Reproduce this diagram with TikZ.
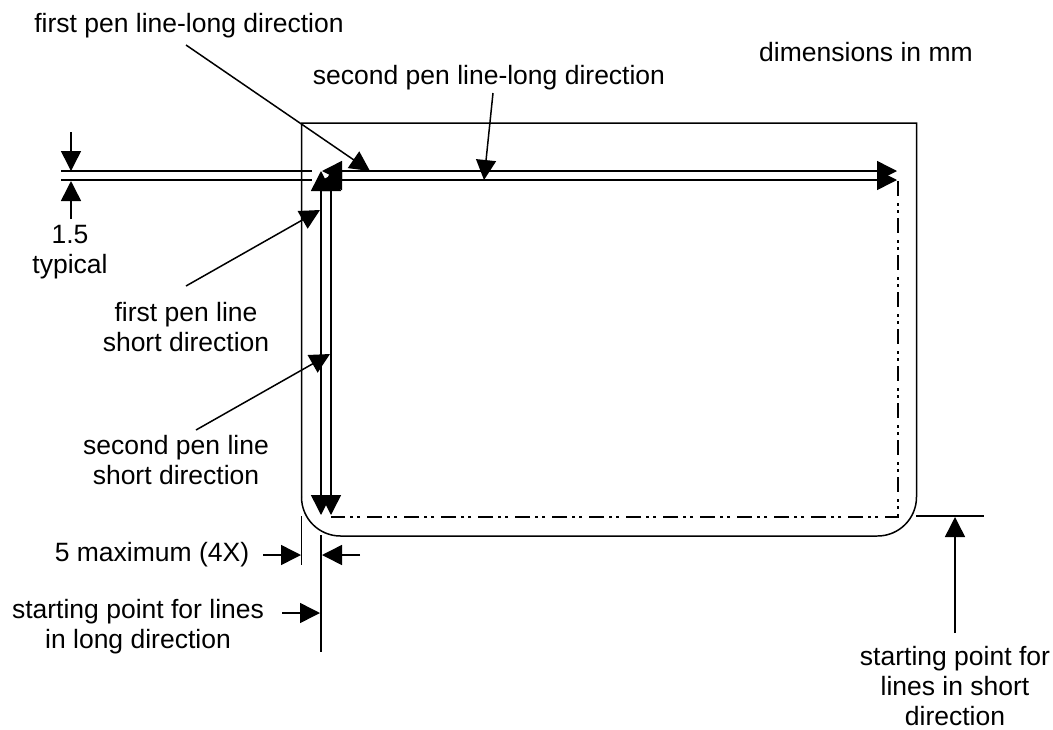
\documentclass[tikz,border=0pt]{standalone}
\usepackage{fontspec}
\setmainfont{Liberation Sans}
\usetikzlibrary{arrows.meta}
\tikzset{
  x=1pt,y=-1pt,
  ln/.style={line width=1.5pt,black},
  hd/.style={ln,{Triangle[length=20pt,width=20pt]}-{Triangle[length=20pt,width=20pt]}},
  tp/.style={ln,-{Triangle[length=20pt,width=20pt]}},
  pen/.style={line width=2pt,black,dash pattern=on 15pt off 7pt on 3pt off 4pt on 3pt off 5pt},
  lbl/.style={font=\fontsize{26.5}{30}\selectfont,align=center,inner sep=0pt,text=black,anchor=base},
}
\begin{document}
\begin{tikzpicture}
\useasboundingbox (0,0) rectangle (1053,729);
% outline
\coordinate (tl) at (301.5,123);
\coordinate (tr) at (916.5,123);
\coordinate (lb) at (301.5,497);
\coordinate (bl) at (340.5,536);
\coordinate (br) at (877.5,536);
\coordinate (rb) at (916.5,497);
\draw[ln] (lb) -- (tl) -- (tr) -- (rb) arc[start angle=0,end angle=90,radius=39pt,y radius=-39pt];
\draw[ln] (br) -- (bl) arc[start angle=90,end angle=180,radius=39pt,y radius=-39pt];
% pen lines
\coordinate (h1a) at (322,171); \coordinate (h1b) at (897,171);
\coordinate (h2a) at (322,180); \coordinate (h2b) at (897,180);
\coordinate (v1a) at (321,171); \coordinate (v1b) at (321,515);
\coordinate (v2a) at (331,171); \coordinate (v2b) at (331,515);
\draw[hd] (h1a) -- (h1b);
\draw[hd] (h2a) -- (h2b);
\draw[hd] (v1a) -- (v1b);
\draw[hd] (v2a) -- (v2b);
% dash-dot-dot
\coordinate (c1) at (897.5,181); \coordinate (c2) at (897.5,516.5); \coordinate (c3) at (331,516.5);
\draw[pen] (c1) -- (c2) -- (c3);
% extension lines
\coordinate (e1a) at (61,171); \coordinate (e1b) at (312,171);
\coordinate (e2a) at (61,180); \coordinate (e2b) at (312,180);
\draw[ln] (e1a) -- (e1b);
\draw[ln] (e2a) -- (e2b);
\coordinate (e3a) at (301.5,516); \coordinate (e3b) at (301.5,565);
\draw[ln] (e3a) -- (e3b);
\coordinate (e4a) at (321,535); \coordinate (e4b) at (321,652);
\draw[ln] (e4a) -- (e4b);
\coordinate (e5a) at (916,516); \coordinate (e5b) at (984,516);
\draw[ln] (e5a) -- (e5b);
% labels
\node[lbl] (t1) at (189,32) {first pen line-long direction};
\node[lbl] (t2) at (489,84) {second pen line-long direction};
\node[lbl] (t3) at (866,61) {dimensions in mm};
\node[lbl] (t4) at (70,273) {1.5\\typical};
\node[lbl] (t5) at (186,351) {first pen line\\short direction};
\node[lbl] (t6) at (176,484) {second pen line\\short direction};
\node[lbl] (t7) at (152,561) {5 maximum (4X)};
\node[lbl] (t8) at (138,648) {starting point for lines\\in long direction};
\node[lbl] (t9) at (955,725) {starting point for\\lines in short\\direction};
% leaders
\coordinate (a1s) at (186,45); \coordinate (a1t) at (370,171);
\draw[tp] (a1s) -- (a1t);
\coordinate (a2s) at (493,93); \coordinate (a2t) at (484,180);
\draw[tp] (a2s) -- (a2t);
\coordinate (a3s) at (186,286); \coordinate (a3t) at (320,210);
\draw[tp] (a3s) -- (a3t);
\coordinate (a4s) at (196,430); \coordinate (a4t) at (330,354);
\draw[tp] (a4s) -- (a4t);
% dimension arrows
\coordinate (d1s) at (71,132); \coordinate (d1t) at (71,171);
\draw[tp] (d1s) -- (d1t);
\coordinate (d2s) at (71,219); \coordinate (d2t) at (71,181);
\draw[tp] (d2s) -- (d2t);
\coordinate (d3s) at (263,555); \coordinate (d3t) at (301,555);
\draw[tp] (d3s) -- (d3t);
\coordinate (d4s) at (360,555); \coordinate (d4t) at (322,555);
\draw[tp] (d4s) -- (d4t);
\coordinate (d5s) at (282,613); \coordinate (d5t) at (320,613);
\draw[tp] (d5s) -- (d5t);
\coordinate (d6s) at (955,633); \coordinate (d6t) at (955,517);
\draw[tp] (d6s) -- (d6t);
\end{tikzpicture}
\end{document}
